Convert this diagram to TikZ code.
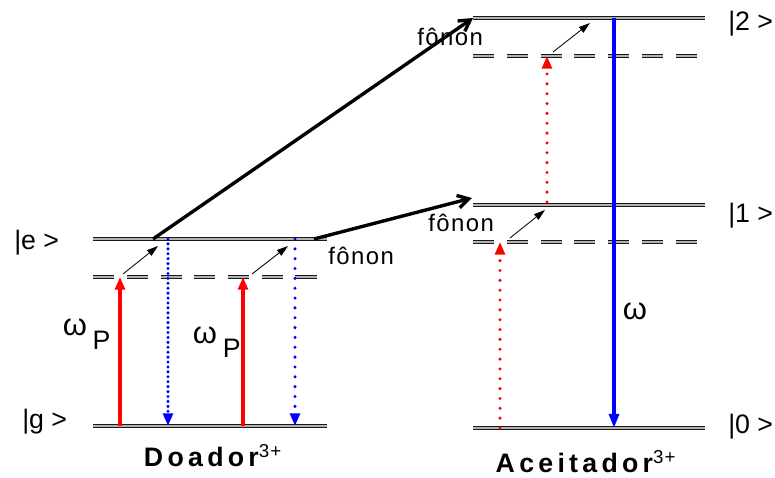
\documentclass[tikz,border=0pt]{standalone}
\usepackage{fontspec}
\setmainfont{Liberation Sans}
\newfontfamily\spaced[LetterSpace=6]{Liberation Sans}
\newfontfamily\wide[LetterSpace=16]{Liberation Sans}
\usetikzlibrary{arrows.meta}

\begin{document}
\begin{tikzpicture}[x=0.025cm,y=-0.025cm,
  level/.style={draw=black!90,double=gray!60,double distance=1.5pt,line width=1pt},
  virtual/.style={level,dash pattern=on 15pt off 9pt},
  pump/.style={red,line width=2.4pt,-{Triangle[length=9pt,width=7pt]}},
  pumpdot/.style={red,line width=2.4pt,line cap=round,dash pattern=on 0pt off 7pt,-{Triangle[length=9pt,width=7pt]}},
  emit/.style={blue,line width=2.4pt,-{Triangle[length=10pt,width=7pt]}},
  emitdot/.style={blue,line width=2.4pt,line cap=round,dash pattern=on 0pt off #1,-{Triangle[length=9pt,width=7pt]}},
  transfer/.style={line width=2.4pt,-{Straight Barb[angle=60:9pt]}},
  phonon/.style={line width=0.6pt,-{Triangle[length=8pt,width=5pt]}},
  state/.style={font=\fontsize{19}{22}\selectfont,anchor=base west,inner sep=0pt},
  lbl/.style={font=\spaced\fontsize{17}{20}\selectfont,anchor=base west,inner sep=0pt},
  ion/.style={font=\bfseries\wide\fontsize{19}{22}\selectfont,anchor=base,inner sep=0pt},
  freq/.style={font=\fontsize{22}{26}\selectfont}
]
\useasboundingbox (0,0) rectangle (775,478);

\coordinate (eL) at (93,239);
\coordinate (eR) at (327,239);
\coordinate (vL) at (93,277);
\coordinate (vR) at (327,277);
\coordinate (gL) at (93,426);
\coordinate (gR) at (327,426);

\coordinate (l2L) at (473,18);
\coordinate (l2R) at (705,18);
\coordinate (v2L) at (473,56);
\coordinate (v2R) at (705,56);
\coordinate (l1L) at (473,205);
\coordinate (l1R) at (705,205);
\coordinate (v1L) at (473,242);
\coordinate (v1R) at (705,242);
\coordinate (l0L) at (473,428);
\coordinate (l0R) at (705,428);

\draw[level] (eL) -- (eR);
\draw[virtual] (vL) -- (vR);
\draw[level] (gL) -- (gR);
\draw[level] (l2L) -- (l2R);
\draw[virtual] (v2L) -- (v2R);
\draw[level] (l1L) -- (l1R);
\draw[virtual] (v1L) -- (v1R);
\draw[level] (l0L) -- (l0R);

\coordinate (p1a) at (120,426);
\coordinate (p1b) at (120,277);
\coordinate (p2a) at (243,426);
\coordinate (p2b) at (243,277);
\coordinate (d1a) at (168,239);
\coordinate (d1b) at (168,426);
\coordinate (d2a) at (295,239);
\coordinate (d2b) at (295,426);
\coordinate (f1a) at (123,274);
\coordinate (f1b) at (158,246);
\coordinate (f2a) at (252,274);
\coordinate (f2b) at (288,246);

\draw[pump] (p1a) -- (p1b);
\draw[pump] (p2a) -- (p2b);
\draw[emitdot=3.5pt] (d1a) -- (d1b);
\draw[emitdot=7pt] (d2a) -- (d2b);
\draw[phonon] (f1a) -- (f1b);
\draw[phonon] (f2a) -- (f2b);

\coordinate (t1a) at (153,239);
\coordinate (t2a) at (314,239);
\coordinate (t2b) at (472,198);
\draw[transfer] (t1a) -- (l2L);
\draw[transfer] (t2a) -- (t2b);

\coordinate (a1a) at (500,428);
\coordinate (a1b) at (500,242);
\coordinate (a2a) at (547,202);
\coordinate (a2b) at (547,56);
\coordinate (ea) at (614,18);
\coordinate (eb) at (614,428);
\coordinate (f3a) at (510,238);
\coordinate (f3b) at (545,210);
\coordinate (f4a) at (553,52);
\coordinate (f4b) at (590,23);

\draw[pumpdot] (a1a) -- (a1b);
\draw[pumpdot] (a2a) -- (a2b);
\draw[emit] (ea) -- (eb);
\draw[phonon] (f3a) -- (f3b);
\draw[phonon] (f4a) -- (f4b);

\node[state] (ke) at (14,250) {|e >};
\node[state] (kg) at (22,428) {|g >};
\node[state] (k2) at (728,31) {|2 >};
\node[state] (k1) at (728,223) {|1 >};
\node[state] (k0) at (728,433) {|0 >};

\node[freq,anchor=west] (wp1) at (58,334) {ω\hspace{4pt}\raisebox{-10pt}{\fontsize{19}{22}\selectfont P}};
\node[freq,anchor=west] (wp2) at (188,342) {ω\hspace{4pt}\raisebox{-10pt}{\fontsize{19}{22}\selectfont P}};
\node[freq] (we) at (635,311) {ω};

\node[lbl] (ph1) at (328,265) {fônon};
\node[lbl] (ph2) at (417,46) {fônon};
\node[lbl] (ph3) at (428,232) {fônon};

\node[ion] (don) at (213,466) {Doador\textsuperscript{\mdseries\spaced 3+}};
\node[ion] (acc) at (586,472) {Aceitador\textsuperscript{\mdseries\spaced 3+}};
\end{tikzpicture}
\end{document}
